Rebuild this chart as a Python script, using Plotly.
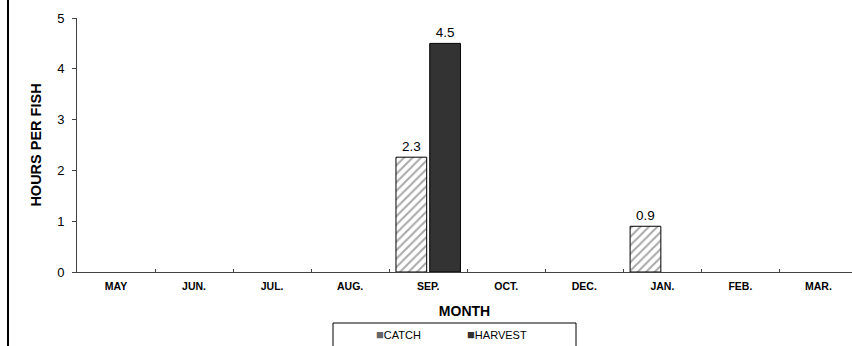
import plotly.graph_objects as go

months = ["MAY", "JUN.", "JUL.", "AUG.", "SEP.", "OCT.", "DEC.", "JAN.", "FEB.", "MAR."]
catch = [None, None, None, None, 2.26, None, None, 0.9, None, None]
harvest = [None, None, None, None, 4.5, None, None, None, None, None]

def labels(vals):
    return ["" if v is None else f"{v:.1f}" for v in vals]

FONT = "Arial, Liberation Sans, sans-serif"
W, H = 852, 346
ML, MT, MR, MB = 77, 18, 0, 74
pw, ph = W - ML - MR, H - MT - MB
AXC = "#404040"

def px_x(x):
    return (x - ML) / pw

def px_y(y):
    return (MT + ph - y) / ph

fig = go.Figure()
fig.add_trace(go.Bar(
    name="CATCH", x=months, y=catch, text=labels(catch),
    textposition="outside", textfont=dict(size=13.5, color="black", family=FONT),
    marker=dict(color="white", line=dict(color="black", width=1),
                pattern=dict(shape="/", fgcolor="#555555", bgcolor="white", size=6, solidity=0.35)),
    cliponaxis=False, showlegend=False,
))
fig.add_trace(go.Bar(
    name="HARVEST", x=months, y=harvest, text=labels(harvest),
    textposition="outside", textfont=dict(size=13.5, color="black", family=FONT),
    marker=dict(color="#333333", line=dict(color="black", width=1)),
    cliponaxis=False, showlegend=False,
))
# legend entries (symbol rendered as a glyph next to the label, like the original)
for nm, col in [("CATCH", "#666666"), ("HARVEST", "#333333"), (None, None)]:
    label = " " if nm is None else f'<span style="color:{col};font-size:13px">■</span>{nm}'
    fig.add_trace(go.Scatter(
        x=[None], y=[None], mode="markers",
        marker=dict(size=1, opacity=0, color="rgba(0,0,0,0)"),
        name=label, showlegend=True,
    ))

fig.update_layout(
    width=W, height=H,
    margin=dict(l=ML, r=MR, t=MT, b=MB, pad=0, autoexpand=False),
    paper_bgcolor="white", plot_bgcolor="white",
    font=dict(family=FONT, color="black"),
    barmode="group", bargap=0.135, bargroupgap=0.09,
    showlegend=True,
    legend=dict(orientation="h", x=px_x(336), xanchor="left",
                y=px_y(320), yanchor="top",
                borderwidth=0, bgcolor="rgba(0,0,0,0)",
                font=dict(size=11, family=FONT),
                entrywidth=46, entrywidthmode="pixels", itemwidth=30),
    xaxis=dict(
        type="category", range=[-0.5, 9.43], automargin=False,
        showline=True, linecolor=AXC, linewidth=1,
        ticks="inside", ticklen=3, tickcolor=AXC, tickson="boundaries",
        tickfont=dict(size=10.5, family=FONT, weight="bold"), ticklabelstandoff=4,
        title=dict(text="<b>MONTH</b>", font=dict(size=14), standoff=15),
        showgrid=False, zeroline=False,
    ),
    yaxis=dict(
        range=[0, 5], dtick=1, automargin=False,
        showline=True, linecolor=AXC, linewidth=1,
        ticks="outside", ticklen=4, tickcolor=AXC,
        tickfont=dict(size=13), ticklabelstandoff=5,
        title=dict(text="<b>HOURS PER FISH</b>", font=dict(size=14.5), standoff=12),
        showgrid=False, zeroline=False,
    ),
    shapes=[
        dict(type="line", xref="paper", yref="paper",
             x0=px_x(8), x1=px_x(8), y0=px_y(H + 2), y1=px_y(-2),
             line=dict(color="black", width=2)),
        dict(type="rect", xref="paper", yref="paper",
             x0=px_x(333), x1=px_x(576), y0=px_y(H + 5), y1=px_y(323),
             line=dict(color="black", width=1), fillcolor="rgba(0,0,0,0)"),
    ],
)

fig.write_html(
    "out.html",
    config={"displayModeBar": False},
    post_script="document.body.style.margin='0';document.body.style.padding='0';document.body.style.overflow='hidden';",
)
